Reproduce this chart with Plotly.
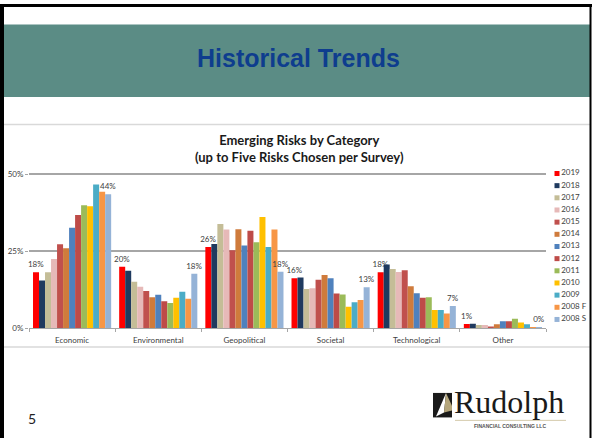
import plotly.graph_objects as go

# -- data ---------------------------------------------------------------------------------------- #
categories = ['Economic', 'Environmental', 'Geopolitical', 'Societal', 'Technological', 'Other']
years = ['2019', '2018', '2017', '2016', '2015', '2014', '2013',
         '2012', '2011', '2010', '2009', '2008 F', '2008 S']
colors = ['#fe0000', '#1f3a5f', '#c4bd97', '#e6b9b8', '#c0504d', '#cf7b3c', '#4f81bd',
          '#be4b48', '#9bbb59', '#ffc000', '#4bacc6', '#f79646', '#95b3d7']

# share of risks (%) per year, one list per category order above
v2019 = [18.2, 20.0, 26.4, 16.3, 18.2, 1.4]
v2018 = [15.5, 18.7, 27.4, 16.5, 20.7, 1.5]
v2017 = [18.2, 15.1, 33.9, 12.8, 19.3, 1.1]
v2016 = [22.5, 13.5, 32.1, 13.0, 18.3, 1.1]
v2015 = [27.3, 12.1, 25.4, 15.8, 18.9, 0.6]
v2014 = [26.0, 10.1, 32.2, 17.3, 13.7, 1.3]
v2013 = [32.7, 10.9, 26.9, 16.3, 11.4, 2.3]
v2012 = [36.8, 8.8, 31.7, 11.3, 9.9, 2.3]
v2011 = [40.0, 8.2, 28.0, 11.0, 10.1, 3.1]
v2010 = [39.7, 9.9, 36.2, 7.0, 5.9, 1.9]
v2009 = [46.7, 11.9, 26.4, 8.5, 5.9, 1.3]
v2008f = [44.4, 9.6, 32.1, 9.2, 4.8, 0.4]
v2008s = [43.6, 17.7, 18.4, 13.3, 7.2, 0.2]
series = [v2019, v2018, v2017, v2016, v2015, v2014, v2013,
          v2012, v2011, v2010, v2009, v2008f, v2008s]

y_ticks = [0, 25, 50]
y_ticks_text = ['0%', '25%', '50%']

W, H = 592, 443


def px(x):
    return x / W


def py(y):
    return 1 - y / H


fnt = 'Lato, Calibri, sans-serif'
grey_txt = '#404040'

fig = go.Figure()

# -- bars ---------------------------------------------------------------------------------------- #
for i, (yr, vals) in enumerate(zip(years, series)):
    labelled = i in (0, len(years) - 1)
    fig.add_trace(go.Bar(name=yr, x=categories, y=vals, marker_color=colors[i], marker_line_width=0,
                         text=[f'{round(v)}%' for v in vals] if labelled else None,
                         textposition='outside' if labelled else None,
                         textfont=dict(size=8, color=grey_txt, family=fnt),
                         constraintext='none', cliponaxis=False, showlegend=False))

# -- hand made legend (plotly's legend rows are too tall for 13 entries here) -------------------- #
fig.add_trace(go.Scatter(x=[0] * len(years), y=list(range(len(years))), mode='markers+text',
                         marker=dict(symbol='square', size=5, color=colors),
                         text=years, textposition='middle right',
                         textfont=dict(size=8, color=grey_txt, family=fnt),
                         xaxis='x2', yaxis='y2', cliponaxis=False, showlegend=False,
                         hoverinfo='skip'))

fig.update_layout(
    width=W, height=H, margin=dict(l=0, r=0, t=0, b=0),
    paper_bgcolor='white', plot_bgcolor='white',
    barmode='group', bargap=0.093, bargroupgap=0,
    xaxis=dict(domain=[px(29), px(546)], type='category', showline=True, linecolor='#a6a6a6',
               linewidth=1, ticks='outside', tickson='boundaries', ticklen=3, tickcolor='#a6a6a6',
               ticklabelstandoff=4,
               tickfont=dict(size=8, color=grey_txt, family=fnt), showgrid=False, anchor='y'),
    yaxis=dict(domain=[py(331), py(172.4)], range=[0, 50.5], tickvals=y_ticks,
               ticktext=y_ticks_text, showgrid=True, gridcolor='#a6a6a6', gridwidth=1.5,
               zeroline=False, showline=False, ticks='outside', ticklen=3, tickcolor='#a6a6a6',
               tickfont=dict(size=8, color=grey_txt, family=fnt), anchor='x'),
    xaxis2=dict(domain=[px(547), px(567)], range=[-1, 1], visible=False, anchor='y2'),
    yaxis2=dict(domain=[py(322), py(173)], range=[12, 0], visible=False, anchor='x2'),
)

# -- slide decoration ---------------------------------------------------------------------------- #
shapes = [
    # teal header band
    dict(type='rect', xref='paper', yref='paper', x0=px(4), x1=px(590), y0=py(95), y1=py(21),
         fillcolor='#5b8c85', line_width=0, layer='below'),
    # chart picture frame
    dict(type='line', xref='paper', yref='paper', x0=px(4), x1=px(590), y0=py(123), y1=py(123),
         line=dict(color='#d9d9d9', width=1.5)),
    dict(type='line', xref='paper', yref='paper', x0=px(4), x1=px(590), y0=py(350), y1=py(350),
         line=dict(color='#d9d9d9', width=1.5)),
    # slide border: left, top, right
    dict(type='line', xref='paper', yref='paper', x0=px(2), x1=px(2), y0=0, y1=1,
         line=dict(color='black', width=4)),
    dict(type='line', xref='paper', yref='paper', x0=0, x1=1, y0=py(1.5), y1=py(1.5),
         line=dict(color='black', width=3)),
    dict(type='line', xref='paper', yref='paper', x0=px(590.5), x1=px(590.5), y0=0, y1=1,
         line=dict(color='black', width=2)),
    # logo pyramid
    dict(type='rect', xref='paper', yref='paper', x0=px(433), x1=px(452), y0=py(422), y1=py(397),
         fillcolor='#1a1a1a', line_width=0),
    dict(type='path', xref='paper', yref='paper',
         path=f'M {px(446)},{py(397)} L {px(436)},{py(421)} L {px(444)},{py(417)} Z',
         fillcolor='white', line_width=0),
    dict(type='path', xref='paper', yref='paper',
         path=f'M {px(446)},{py(397)} L {px(444)},{py(417)} L {px(452)},{py(415)} L {px(452)},{py(410)} Z',
         fillcolor='#b5a67b', line_width=0),
    dict(type='line', xref='paper', yref='paper', x0=px(455), x1=px(566), y0=py(425), y1=py(425),
         line=dict(color='#c9bd95', width=0.8)),
]
fig.update_layout(shapes=shapes)

annots = [
    dict(text='<b>Historical Trends</b>', x=px(298), y=py(55),
         font=dict(family='Liberation Sans, Arial', size=25, color='#0e3d8e')),
    dict(text='<b>Emerging Risks by Category<br>(up to Five Risks Chosen per Survey)</b>',
         x=px(299), y=py(148), font=dict(family=fnt, size=13, color='#1a1a1a')),
    dict(text='5', x=px(32), y=py(423), font=dict(family=fnt, size=14, color='#222222')),
    dict(text='Rudolph', x=px(509), y=py(406),
         font=dict(family='Liberation Serif, Times New Roman', size=32, color='#1a1a1a')),
    dict(text='<b>FINANCIAL CONSULTING LLC</b>', x=px(510), y=py(431),
         font=dict(family='Liberation Sans, Arial', size=5, color='#555555')),
]
for a in annots:
    fig.add_annotation(xref='paper', yref='paper', showarrow=False, xanchor='center',
                       yanchor='middle', **a)

# the page body has a default 8px margin; drop it so the slide sits at the window corner
fig.write_html('out.html', config={'displayModeBar': False},
               post_script="document.body.style.margin='0px';"
                           "document.body.style.overflow='hidden';")
